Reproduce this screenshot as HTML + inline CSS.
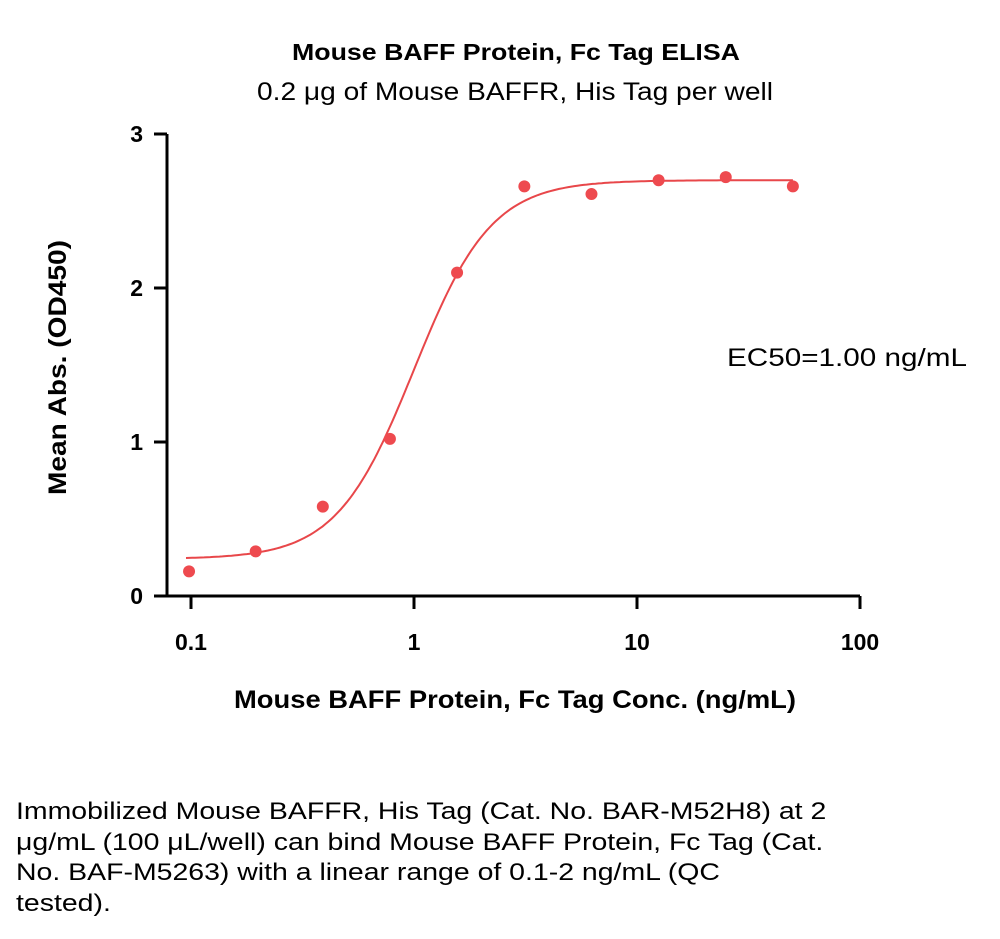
<!DOCTYPE html>
<html><head><meta charset="utf-8"><style>
body{margin:0;background:#fff;width:1000px;height:939px;overflow:hidden;font-family:"Liberation Sans",sans-serif}
.caption{position:absolute;left:16px;top:797px;width:800px;font-size:24px;line-height:30.5px;color:#000;white-space:nowrap;transform:scaleX(1.185);transform-origin:0 0}
</style></head><body>
<svg width="1000" height="780" style="position:absolute;left:0;top:0">
<text x="292" y="60" textLength="448" lengthAdjust="spacingAndGlyphs" font-size="23" font-weight="bold">Mouse BAFF Protein, Fc Tag ELISA</text>
<text x="257" y="100" textLength="516" lengthAdjust="spacingAndGlyphs" font-size="25">0.2 μg of Mouse BAFFR, His Tag per well</text>
<g id="axes" stroke="#000" stroke-width="3"></g>
<g id="ticks" font-size="23" font-weight="bold"></g>
<text x="234" y="708" textLength="562" lengthAdjust="spacingAndGlyphs" font-size="25" font-weight="bold">Mouse BAFF Protein, Fc Tag Conc. (ng/mL)</text>
<text transform="translate(66,495) rotate(-90)" textLength="255" lengthAdjust="spacingAndGlyphs" font-size="25" font-weight="bold">Mean Abs. (OD450)</text>
<text x="727" y="366" textLength="240" lengthAdjust="spacingAndGlyphs" font-size="25">EC50=1.00 ng/mL</text>
<path id="curve" fill="none" stroke="#e8474a" stroke-width="2"></path>
<g id="pts" fill="#ee4a4f"></g>
</svg>
<div class="caption">Immobilized Mouse BAFFR, His Tag (Cat. No. BAR-M52H8) at 2<br>μg/mL (100 μL/well) can bind Mouse BAFF Protein, Fc Tag (Cat.<br>No. BAF-M5263) with a linear range of 0.1-2 ng/mL (QC<br>tested).</div>
<script>
const concs=[0.098,0.195,0.39,0.78,1.56,3.125,6.25,12.5,25,50];
const abs=[0.16,0.29,0.58,1.02,2.10,2.66,2.61,2.70,2.72,2.66];
const fitParams=[0.24,2.70,1.0,2.5];
const xTicks=[0.1,1,10,100];
const xTickLabels=["0.1","1","10","100"];
const yTicks=[0,1,2,3];
const yTickLabels=["0","1","2","3"];
const NS="http://www.w3.org/2000/svg";
function xs(v){return 191+(Math.log10(v)+1)*223;}
function ys(v){return 596-v*154;}
function mk(t,a,p){const e=document.createElementNS(NS,t);for(const k in a)e.setAttribute(k,a[k]);p.appendChild(e);return e;}
const ax=document.getElementById('axes'),tk=document.getElementById('ticks');
let l=mk('line',{x1:167,y1:ys(3),x2:167,y2:597.5},ax);


l=mk('line',{x1:165.5,y1:596,x2:xs(100),y2:596},ax);


xTicks.forEach((v,i)=>{
 const t=mk('line',{x1:xs(v),y1:596,x2:xs(v),y2:609},ax);
 
 
 const tx=mk('text',{x:xs(v),y:650,'text-anchor':'middle'},tk);tx.textContent=xTickLabels[i];
 
 
});
yTicks.forEach((v,i)=>{
 const t=mk('line',{x1:154,y1:ys(v),x2:167,y2:ys(v)},ax);
 
 
 const tx=mk('text',{x:143,y:ys(v)+8,'text-anchor':'end'},tk);tx.textContent=yTickLabels[i];
 
 
});
const [b,tp,ec,h]=fitParams;let d='';
for(let i=0;i<=200;i++){const lx=Math.log10(0.095)+i/200*(Math.log10(50)-Math.log10(0.095));const c=Math.pow(10,lx);
const y=b+(tp-b)/(1+Math.pow(ec/c,h));d+=(i?'L':'M')+xs(c).toFixed(1)+','+ys(y).toFixed(1);}
const cv=document.getElementById('curve');cv.setAttribute('d',d);


const pg=document.getElementById('pts');
concs.forEach((c,i)=>{const p=mk('circle',{cx:xs(c),cy:ys(abs[i]),r:6},pg);
 
 });
</script>
</body></html>
